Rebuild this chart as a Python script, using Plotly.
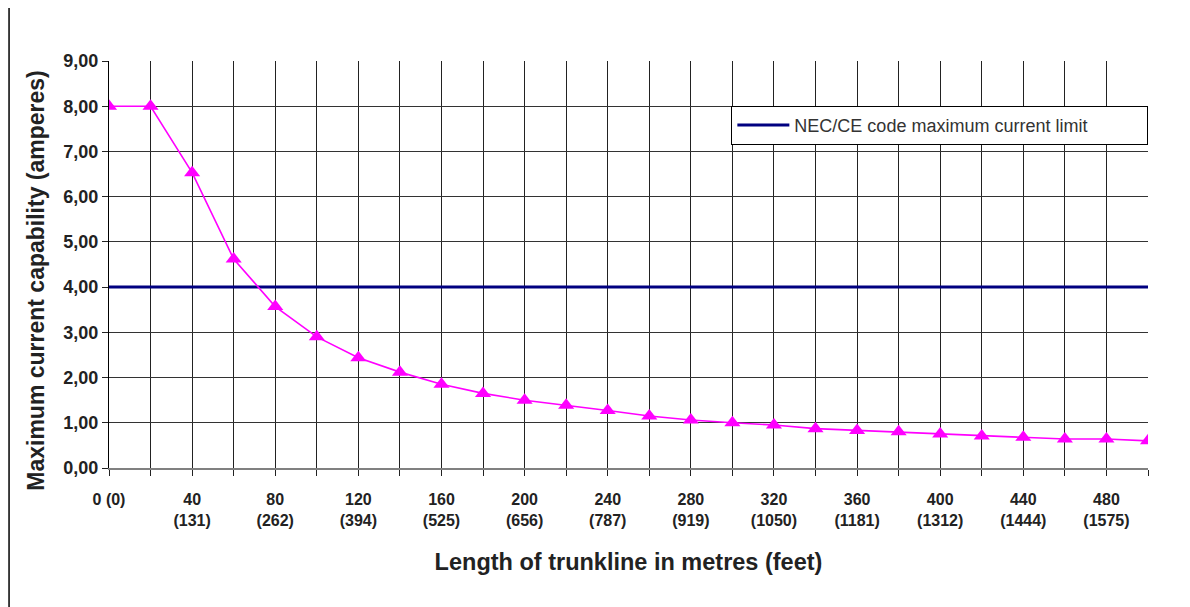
import plotly.graph_objects as go

# trunkline length in metres and the max current it can carry
lengths_m = [0, 20, 40, 60, 80, 100, 120, 140, 160, 180, 200, 220, 240,
             260, 280, 300, 320, 340, 360, 380, 400, 420, 440, 460, 480, 500]
current_a = [8.00, 8.00, 6.53, 4.62, 3.57, 2.90, 2.44, 2.12, 1.85, 1.65, 1.50,
             1.39, 1.27, 1.15, 1.06, 1.00, 0.95, 0.87, 0.83, 0.80, 0.75, 0.71,
             0.68, 0.64, 0.64, 0.60]
nec_limit = 4.0

tick_vals = [0, 40, 80, 120, 160, 200, 240, 280, 320, 360, 400, 440, 480]
tick_text = ["0 (0)", "40<br>(131)", "80<br>(262)", "120<br>(394)", "160<br>(525)",
             "200<br>(656)", "240<br>(787)", "280<br>(919)", "320<br>(1050)",
             "360<br>(1181)", "400<br>(1312)", "440<br>(1444)", "480<br>(1575)"]

FONT = "Arial, Liberation Sans, sans-serif"

fig = go.Figure()

fig.add_trace(go.Scatter(
    x=[lengths_m[0], lengths_m[-1]], y=[nec_limit, nec_limit],
    mode="lines", line=dict(color="#000080", width=3),
    name="NEC/CE code maximum current limit",
))
fig.add_trace(go.Scatter(
    x=lengths_m, y=current_a, mode="lines+markers",
    line=dict(color="#FF00FF", width=1.6),
    marker=dict(symbol="triangle-up", size=14, color="#FF00FF"),
    showlegend=False,
))

# left border line of the original picture
fig.add_shape(type="line", xref="paper", yref="paper",
              x0=-0.0962, x1=-0.0962, y0=-0.5, y1=1.5,
              line=dict(color="black", width=1.5))

# the page body has an 8px margin, so margins are shifted by that
fig.update_layout(
    width=1190, height=607,
    margin=dict(l=101, r=50, t=53, b=147),
    paper_bgcolor="white", plot_bgcolor="white",
    separators=",.",
    font=dict(family=FONT, color="#222"),
    legend=dict(x=0.599, y=0.89, xanchor="left", yanchor="top",
                orientation="h", entrywidth=348, entrywidthmode="pixels",
                itemwidth=52,
                bgcolor="white", bordercolor="black", borderwidth=1,
                font=dict(size=18, color="#333")),
    xaxis=dict(
        range=[0, 500], tickvals=tick_vals,
        ticktext=["<b>" + t.replace("<br>", "</b><br><b>") + "</b>" for t in tick_text],
        ticks="outside", ticklen=6, tickcolor="#222",
        ticklabelstandoff=10,
        showgrid=True, gridcolor="#222", gridwidth=1,
        minor=dict(dtick=20, showgrid=True, gridcolor="#222",
                   ticks="outside", ticklen=6, tickcolor="#222"),
        showline=True, linecolor="#808080", linewidth=2,
        tickfont=dict(size=16, family=FONT, color="#222"),
        title=dict(text="<b>Length of trunkline in metres (feet)</b>",
                   font=dict(size=23.5, color="#222"), standoff=26),
        zeroline=False,
    ),
    yaxis=dict(
        range=[0, 9], dtick=1, tickformat=".2f",
        ticks="outside", ticklen=6, tickcolor="#222",
        showgrid=True, gridcolor="#333", gridwidth=1,
        showline=True, linecolor="black", linewidth=1,
        tickfont=dict(size=18, family=FONT, color="#222"),
        tickprefix="<b>", ticksuffix="</b>",
        title=dict(text="<b>Maximum current capability (amperes)</b>" + "&nbsp;" * 5,
                   font=dict(size=23, color="#222"), standoff=12),
        zeroline=False,
    ),
)

fig.write_html("out.html")
